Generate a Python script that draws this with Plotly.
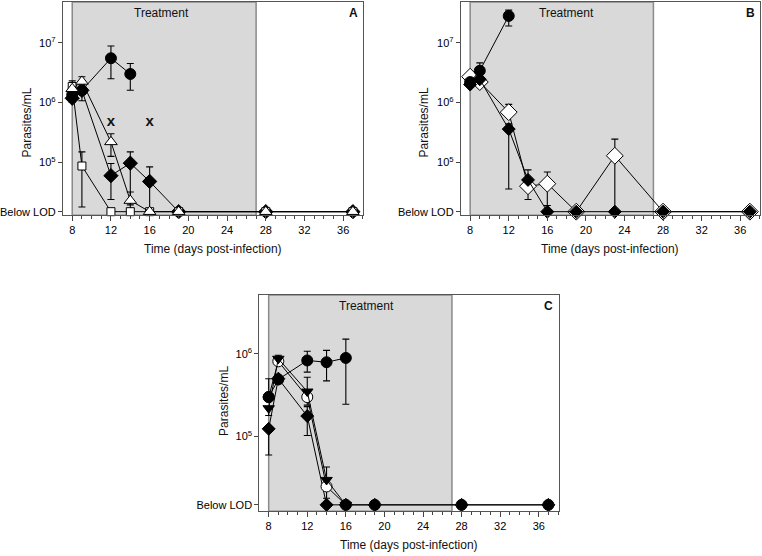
import plotly.graph_objects as go

LOD = 1.5e4

# ---------------- Panel A ----------------
A_circle_days = [8, 9, 12, 14]
A_circle_vals = [1.35e6, 1.6e6, 5.5e6, 3.0e6]
A_circle_lo = [None, 1.07e6, 2.5e6, 1.6e6]
A_circle_hi = [None, 2.0e6, 8.8e6, 4.5e6]

A_diamond_days = [8, 9, 12, 14, 16, 19, 28, 37]
A_diamond_vals = [1.18e6, 1.6e6, 6.0e4, 9.7e4, 4.8e4, LOD, LOD, LOD]
A_diamond_lo = [1.0e6, None, 2.4e4, LOD, LOD, None, None, None]
A_diamond_hi = [None, None, 9.6e4, 1.5e5, 8.4e4, None, None, None]

A_square_days = [8, 9, 12, 14, 16, 19, 28, 37]
A_square_vals = [1.85e6, 8.7e4, LOD, LOD, LOD, LOD, LOD, LOD]
A_square_lo = [None, 1.8e4, None, None, None, None, None, None]
A_square_hi = [2.3e6, 1.5e5, None, None, None, None, None, None]

A_triangle_days = [8, 9, 12, 14, 16, 19, 28, 37]
A_triangle_vals = [1.7e6, 2.25e6, 2.2e5, 2.3e4, LOD, LOD, LOD, LOD]
A_triangle_lo = [None, None, 1.26e5, 1.95e4, None, None, None, None]
A_triangle_hi = [None, 2.7e6, 3.0e5, 3.2e4, None, None, None, None]

A_death_days = [12, 16]
A_death_vals = [4.6e5, 4.6e5]

# ---------------- Panel B ----------------
B_circle_days = [8, 9, 12]
B_circle_vals = [2.2e6, 3.4e6, 2.8e7]
B_circle_lo = [None, None, 1.9e7]
B_circle_hi = [None, 4.6e6, 3.5e7]

B_fdiamond_days = [8, 9, 12, 14, 16, 19, 23, 28, 37]
B_fdiamond_vals = [2.0e6, 2.45e6, 3.6e5, 5.1e4, LOD, LOD, LOD, LOD, LOD]
B_fdiamond_lo = [1.8e6, None, 3.6e4, None, None, None, None, None, None]
B_fdiamond_hi = [None, None, 4.4e5, 7.5e4, None, None, None, None, None]

B_odiamond_days = [8, 9, 12, 14, 16, 19, 23, 28, 37]
B_odiamond_vals = [2.7e6, 2.2e6, 6.9e5, 4.0e4, 4.4e4, LOD, 1.29e5, LOD, LOD]
B_odiamond_lo = [None, 1.85e6, None, 2.4e4, 1.9e4, None, LOD, None, None]
B_odiamond_hi = [None, None, 9.3e5, None, 6.9e4, None, 2.45e5, None, None]

# ---------------- Panel C ----------------
C_circle_days = [8, 9, 12, 14, 16]
C_circle_vals = [3.0e5, 4.9e5, 8.3e5, 7.9e5, 8.9e5]
C_circle_lo = [None, None, 6.0e5, 4.7e5, 2.46e5]
C_circle_hi = [None, None, 1.07e6, 1.1e6, 1.5e6]

C_diamond_days = [8, 9, 12, 14, 16, 19, 28, 37]
C_diamond_vals = [1.24e5, 5.0e5, 1.77e5, LOD, LOD, LOD, LOD, LOD]
C_diamond_lo = [6.0e4, None, 1.03e5, None, None, None, None, None]
C_diamond_hi = [None, None, 2.3e5, None, None, None, None, None]

C_tridown_days = [8, 9, 12, 14, 16]
C_tridown_vals = [2.2e5, 8.7e5, 3.5e5, 3.0e4, LOD]
C_tridown_lo = [1.8e5, None, None, None, None]
C_tridown_hi = [None, 9.6e5, 5.2e5, 4.3e4, None]

C_ocircle_days = [8, 9, 12, 14, 16, 19, 28, 37]
C_ocircle_vals = [3.0e5, 8.1e5, 3.0e5, 2.5e4, LOD, LOD, LOD, LOD]
C_ocircle_lo = [None, None, 2.4e5, 1.8e4, None, None, None, None]
C_ocircle_hi = [5.0e5, None, None, None, None, None, None, None]

TREAT_START, TREAT_END = 8, 27
X_TICKS = [8, 12, 16, 20, 24, 28, 32, 36]

FONT = "Liberation Sans, Arial, sans-serif"


def err(vals, lo, hi):
    plus = [(h - v) if h is not None else None for v, h in zip(vals, hi)]
    minus = [(v - l) if l is not None else None for v, l in zip(vals, lo)]
    return dict(type="data", symmetric=False, array=plus, arrayminus=minus,
                color="black", thickness=1.1, width=3.5)


def series(x, y, lo, hi, xa, ya, symbol, fill, size):
    return go.Scatter(
        x=x, y=y, xaxis=xa, yaxis=ya, mode="lines+markers",
        line=dict(color="black", width=1),
        marker=dict(symbol=symbol, color=fill, size=size,
                    line=dict(color="black", width=1)),
        error_y=err(y, lo, hi), showlegend=False, cliponaxis=False)


fig = go.Figure()

# Panel A traces
fig.add_trace(series(A_diamond_days, A_diamond_vals, A_diamond_lo, A_diamond_hi, "x", "y", "diamond", "black", 11))
fig.add_trace(series(A_square_days, A_square_vals, A_square_lo, A_square_hi, "x", "y", "square", "white", 8))
fig.add_trace(series(A_circle_days, A_circle_vals, A_circle_lo, A_circle_hi, "x", "y", "circle", "black", 11))
fig.add_trace(series(A_triangle_days, A_triangle_vals, A_triangle_lo, A_triangle_hi, "x", "y", "triangle-up", "white", 11))
fig.add_trace(go.Scatter(x=A_death_days, y=A_death_vals, xaxis="x", yaxis="y", mode="text",
                         text=["<b>x</b>"] * len(A_death_days),
                         textfont=dict(family=FONT, size=15, color="#111"),
                         showlegend=False))

# Panel B traces
fig.add_trace(series(B_odiamond_days, B_odiamond_vals, B_odiamond_lo, B_odiamond_hi, "x2", "y2", "diamond", "white", 13))
fig.add_trace(series(B_fdiamond_days, B_fdiamond_vals, B_fdiamond_lo, B_fdiamond_hi, "x2", "y2", "diamond", "black", 10))
fig.add_trace(series(B_circle_days, B_circle_vals, B_circle_lo, B_circle_hi, "x2", "y2", "circle", "black", 11))

# Panel C traces
fig.add_trace(series(C_diamond_days, C_diamond_vals, C_diamond_lo, C_diamond_hi, "x3", "y3", "diamond", "black", 10))
fig.add_trace(series(C_ocircle_days, C_ocircle_vals, C_ocircle_lo, C_ocircle_hi, "x3", "y3", "circle", "white", 11))
fig.add_trace(series(C_tridown_days, C_tridown_vals, C_tridown_lo, C_tridown_hi, "x3", "y3", "triangle-down", "black", 10))
fig.add_trace(series(C_circle_days, C_circle_vals, C_circle_lo, C_circle_hi, "x3", "y3", "circle", "black", 11))
# cleared (below LOD) points of the open-circle group drawn as filled circles
lod_x = [d for d, v in zip(C_ocircle_days, C_ocircle_vals) if v == LOD]
lod_y = [v for v in C_ocircle_vals if v == LOD]
fig.add_trace(go.Scatter(x=lod_x, y=lod_y, xaxis="x3", yaxis="y3", mode="markers",
                         marker=dict(symbol="circle", color="black", size=11),
                         showlegend=False, cliponaxis=False))

W, H = 762, 556
panels = {
    # name: (x0px, x1px, y0px(top), y1px(bottom), yrange, yticks)
    "": (61, 362, 2, 216, [4.117, 7.68], [LOD, 1e5, 1e6, 1e7]),
    "2": (460, 760, 2, 216, [4.117, 7.68], [LOD, 1e5, 1e6, 1e7]),
    "3": (258, 558, 296, 513, [4.10, 6.71], [LOD, 1e5, 1e6]),
}

tick_text = {LOD: "Below LOD", 1e5: "10<sup>5</sup>", 1e6: "10<sup>6</sup>", 1e7: "10<sup>7</sup>"}

layout = dict(width=W, height=H, margin=dict(l=0, r=0, t=0, b=0),
              paper_bgcolor="white", plot_bgcolor="white",
              font=dict(family=FONT, size=11, color="black"), showlegend=False)
shapes, annotations = [], []
labels = {"": ("A", 17.2), "2": ("B", 18.0), "3": ("C", 18.1)}
for k, (x0, x1, yt, yb, yr, yt_vals) in panels.items():
    xdom = [x0 / W, x1 / W]
    ydom = [1 - yb / H, 1 - yt / H]
    layout["xaxis" + k] = dict(
        domain=xdom, range=[7.03, 38.05], anchor="y" + k,
        tickvals=X_TICKS, ticks="outside", ticklen=5, tickcolor="#444",
        showline=True, linecolor="#555", linewidth=1, mirror=True,
        showgrid=False, zeroline=False, tickfont=dict(size=11, color="black"),
        minor=dict(dtick=1, tick0=0, ticks="outside", ticklen=3, tickcolor="#444", showgrid=False))
    layout["yaxis" + k] = dict(
        domain=ydom, type="log", range=yr, anchor="x" + k,
        tickvals=yt_vals, ticktext=[tick_text[v] for v in yt_vals],
        ticks="outside", ticklen=4, tickcolor="#444",
        showline=True, linecolor="#555", linewidth=1, mirror=True,
        showgrid=False, zeroline=False, tickfont=dict(size=11, color="black"))
    xr = "x" + k
    yr_ref = "y" + k + " domain"
    shapes.append(dict(type="rect", xref=xr, yref=yr_ref, x0=TREAT_START, x1=TREAT_END,
                       y0=0, y1=1, fillcolor="#d9d9d9", line=dict(color="#8a8a8a", width=1.5),
                       layer="below"))
    lab, tx = labels[k]
    ytop = 1 - (yt + 11) / H
    annotations.append(dict(x=tx, y=ytop, xref=xr, yref="paper", text="Treatment",
                            xanchor="center", yanchor="middle",
                            showarrow=False, font=dict(size=12, color="#111")))
    annotations.append(dict(x=37.05, y=ytop, xref=xr, yref="paper", text="<b>" + lab + "</b>",
                            xanchor="center", yanchor="middle",
                            showarrow=False, font=dict(size=12, color="#111")))
    annotations.append(dict(x=(x0 + x1) / 2 / W, y=1 - (yb + 34) / H, xref="paper", yref="paper",
                            text="Time (days post-infection)", showarrow=False,
                            xanchor="center", yanchor="middle",
                            font=dict(size=12, color="#111")))

ytitle_pos = {"": (25, 123), "2": (423, 123), "3": (222, 402)}
for k, (px, py) in ytitle_pos.items():
    annotations.append(dict(x=px / W, y=1 - py / H, xref="paper", yref="paper",
                            text="Parasites/mL", textangle=-90, showarrow=False,
                            xanchor="center", yanchor="middle",
                            font=dict(size=12, color="#111")))

layout["shapes"] = shapes
layout["annotations"] = annotations
fig.update_layout(**layout)
fig.write_html("out.html", config={"displayModeBar": False},
               post_script="document.body.style.margin='0';document.body.style.overflow='hidden';")
